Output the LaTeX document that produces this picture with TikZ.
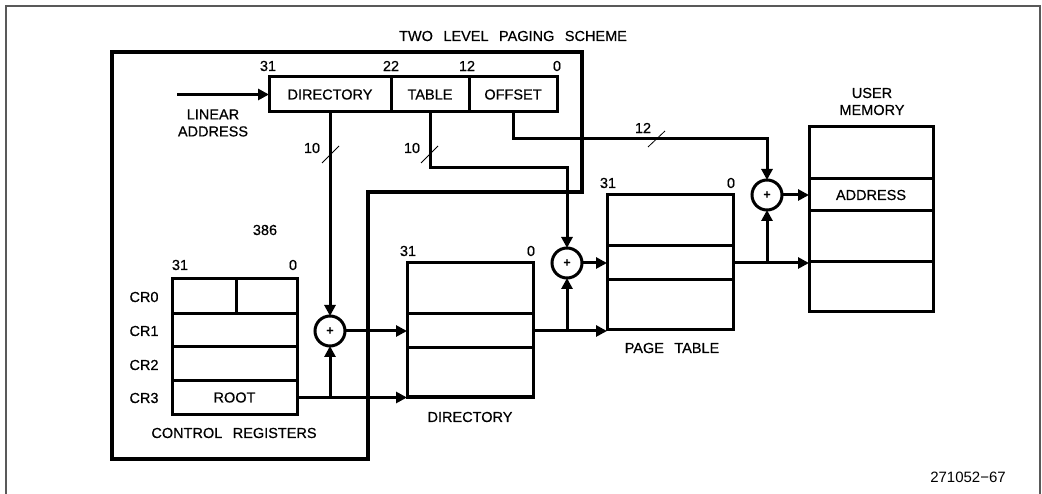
\documentclass[tikz,border=0pt]{standalone}
\usepackage{fontspec}
\setmainfont{Liberation Sans}[WordSpace=2.6, FakeBold=0.5]
\newfontfamily\fignumfont{Liberation Sans}
\usetikzlibrary{arrows.meta,calc}
\begin{document}
\begin{tikzpicture}[x=1pt,y=-1pt,
  every node/.style={font=\fontsize{14.5}{17}\selectfont, inner sep=0pt},
  box/.style={draw, line width=3pt, rectangle, inner sep=0pt, outer sep=0pt},
  arr/.style={line width=3pt, -{Triangle[length=11pt,width=11pt]}},
  adder/.style={draw, circle, line width=3pt, minimum size=30pt, inner sep=0pt, outer sep=0pt, font=\fontsize{12}{12}\selectfont\bfseries},
  tick/.style={line width=0.8pt},
  lbl/.style={font=\fontsize{14.5}{17}\selectfont}
]
\useasboundingbox (0,0) rectangle (1042,494);
% outer frame
\draw[line width=1.5pt, black!65] (6,494) -- (6,6) -- (1040,6) -- (1040,494);

% title
\node[lbl] (title) at (513,36) {TWO LEVEL PAGING SCHEME};

% 386 chip outline
\draw[line width=3.5pt] (112,52) -- (582,52) -- (582,192) -- (368,192) -- (368,459) -- (112,459) -- cycle;
\node[lbl] (chip) at (265,230) {386};

% linear address
\node[box, minimum width=122pt, minimum height=35pt] (ladir) at (330,94.5) {DIRECTORY};
\node[box, minimum width=78pt, minimum height=35pt] (latab) at (430,94.5) {TABLE};
\node[box, minimum width=88pt, minimum height=35pt] (laoff) at (513,94.5) {OFFSET};
\node[lbl] (b31) at (268,66) {31};
\node[lbl] (b22) at (391,66) {22};
\node[lbl] (b12) at (467,66) {12};
\node[lbl] (b0) at (557,66) {0};
\node[lbl, align=center] (lalbl) at (213,123) {LINEAR\\ADDRESS};
\coordinate (lain) at (177,94.5);
\draw[arr] (lain) -- (ladir.west);

% control registers
\node[box, minimum width=64pt, minimum height=35pt] (cr0a) at (204,296.5) {};
\node[box, minimum width=61pt, minimum height=35pt] (cr0b) at (266.5,296.5) {};
\node[box, minimum width=125pt, minimum height=33pt] (cr1) at (234.5,330.5) {};
\node[box, minimum width=125pt, minimum height=34pt] (cr2) at (234.5,364) {};
\node[box, minimum width=125pt, minimum height=33pt] (cr3) at (234.5,397.5) {ROOT};
\node[lbl] (crl0) at (144,297) {CR0};
\node[lbl] (crl1) at (144,331) {CR1};
\node[lbl] (crl2) at (144,365) {CR2};
\node[lbl] (crl3) at (144,398) {CR3};
\node[lbl] (cr31) at (180,265) {31};
\node[lbl] (cr00) at (293,265) {0};
\node[lbl] (crname) at (234,433) {CONTROL REGISTERS};

% directory
\node[box, minimum width=126pt, minimum height=51pt] (dir1) at (470,288.5) {};
\node[box, minimum width=126pt, minimum height=34pt] (dir2) at (470,331) {};
\node[box, minimum width=126pt, minimum height=49pt] (dir3) at (470,372.5) {};
\node[lbl] (d31) at (408,251) {31};
\node[lbl] (d0) at (531,251) {0};
\node[lbl] (dname) at (470,417) {DIRECTORY};

% page table
\node[box, minimum width=126pt, minimum height=51pt] (pt1) at (670,220.5) {};
\node[box, minimum width=126pt, minimum height=34pt] (pt2) at (670,263) {};
\node[box, minimum width=126pt, minimum height=50pt] (pt3) at (670,305) {};
\node[lbl] (p31) at (608,183) {31};
\node[lbl] (p0) at (731,183) {0};
\node[lbl] (pname) at (672,348) {PAGE TABLE};

% user memory
\node[box, minimum width=124pt, minimum height=52pt] (m1) at (871,153) {};
\node[box, minimum width=124pt, minimum height=32pt] (m2) at (871,195) {ADDRESS};
\node[box, minimum width=124pt, minimum height=51pt] (m3) at (871,236.5) {};
\node[box, minimum width=124pt, minimum height=50pt] (m4) at (871,287) {};
\node[lbl, align=center] (mname) at (872,101.5) {USER\\MEMORY};

% adders
\node[adder] (add1) at (330,331) {+};
\node[adder] (add2) at (567,263) {+};
\node[adder] (add3) at (767,195) {+};

% connectors
\coordinate (tbend) at (567,168);
\coordinate (ofbend) at (767,139);
\draw[arr] (ladir.south) -- (add1.north);
\draw[arr] (latab.south) |- (tbend) -- (add2.north);
\draw[arr] (laoff.south) |- (ofbend) -- (add3.north);

\draw[arr] (cr3.east) -- (cr3.east -| dir3.west);
\draw[arr] (add1.south |- cr3.east) -- (add1.south);
\draw[arr] (add1.east) -- (dir2.west);

\draw[arr] (dir2.east) -- (dir2.east -| pt3.west);
\draw[arr] (add2.south |- dir2.east) -- (add2.south);
\draw[arr] (add2.east) -- (pt2.west);

\draw[arr] (pt2.east) -- (pt2.east -| m4.west);
\draw[arr] (add3.south |- pt2.east) -- (add3.south);
\draw[arr] (add3.east) -- (m2.west);

% width marks
\draw[tick] (322,163) -- (339,146);
\node[lbl] (w1) at (312,148) {10};
\draw[tick] (421,163) -- (438,146);
\node[lbl] (w2) at (412,148) {10};
\draw[tick] (648,147) -- (665,131);
\node[lbl] (w3) at (643,128) {12};

% figure number
\node[font=\fignumfont\fontsize{15}{17}\selectfont] (fig) at (968,477) {271052−67};
\end{tikzpicture}
\end{document}
